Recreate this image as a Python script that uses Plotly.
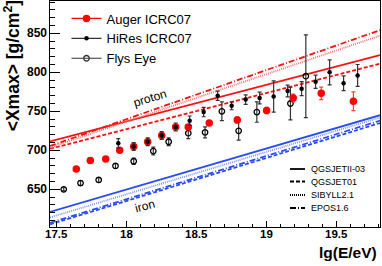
import plotly.graph_objects as go

# ---------------- data ----------------
auger_lgE = [17.64, 17.74, 17.85, 17.95, 18.05, 18.15, 18.25, 18.35, 18.44, 18.59, 18.79, 19.00, 19.19, 19.39, 19.62]
auger_xmax = [676, 687, 689, 700, 705, 711, 719, 730, 730, 735, 739, 751, 767, 773, 763]
auger_err = [3, 3, 3, 3, 3, 3, 3, 3, 3, 3, 4, 4, 5, 8, 12]

hires_lgE = [17.94, 18.05, 18.15, 18.25, 18.35, 18.45, 18.55, 18.65, 18.75, 18.85, 18.95, 19.05, 19.15, 19.25, 19.35, 19.45, 19.55, 19.65]
hires_xmax = [709, 705, 711, 719, 730, 738, 749, 770, 757, 765, 767, 769, 776, 779, 788, 800, 786, 796]
hires_err = [6, 5, 5, 5, 5, 6, 6, 6, 5, 6, 7.5, 20, 7.5, 9, 8.5, 16, 9.5, 14]

fly_lgE = [17.55, 17.67, 17.80, 17.92, 18.05, 18.19, 18.30, 18.44, 18.56, 18.68, 18.80, 18.93, 19.17, 19.28]
fly_xmax = [650, 658, 662, 680, 686, 699, 711, 722, 723, 750, 725, 749, 760, 795]
fly_err = [2, 3, 3, 3, 4, 5, 5, 7, 7, 12, 12, 13, 21, 53]

model_lgE = [17.452, 19.81]
models = ["QGSJETII-03", "QGSJET01", "SIBYLL2.1", "EPOS1.6"]
proton_xmax = {
    "QGSJETII-03": [711.5, 822],
    "QGSJET01": [702, 811],
    "SIBYLL2.1": [703.5, 847],
    "EPOS1.6": [705.5, 854],
}
iron_xmax = {
    "QGSJETII-03": [621, 745],
    "QGSJET01": [605, 735],
    "SIBYLL2.1": [614, 742],
    "EPOS1.6": [607, 738],
}

x_ticks = [17.5, 18, 18.5, 19, 19.5]
x_ticklabels = ["17.5", "18", "18.5", "19", "19.5"]
y_ticks = [650, 700, 750, 800, 850]
y_ticklabels = ["650", "700", "750", "800", "850"]

# ---------------- styles ----------------
dash_of = {
    "QGSJETII-03": "solid",
    "QGSJET01": "4px,2px",
    "SIBYLL2.1": "1px,1px",
    "EPOS1.6": "6px,2px,1px,2px",
}
proton_col = {"QGSJETII-03": "#ff1010", "QGSJET01": "#ff1010", "SIBYLL2.1": "#ff7070", "EPOS1.6": "#ff1010"}
iron_col = {"QGSJETII-03": "#2a4cff", "QGSJET01": "#2a4cff", "SIBYLL2.1": "#7f95ff", "EPOS1.6": "#2a4cff"}

FONT = "Liberation Sans"
fig = go.Figure()

for m in models:
    fig.add_trace(go.Scatter(x=model_lgE, y=proton_xmax[m], mode="lines",
                             line=dict(color=proton_col[m], width=1.8, dash=dash_of[m]),
                             showlegend=False, hoverinfo="skip"))
    fig.add_trace(go.Scatter(x=model_lgE, y=iron_xmax[m], mode="lines",
                             line=dict(color=iron_col[m], width=1.8, dash=dash_of[m]),
                             showlegend=False, hoverinfo="skip"))

# data
fig.add_trace(go.Scatter(x=fly_lgE, y=fly_xmax, mode="markers",
                         marker=dict(symbol="circle-open", size=5.5, color="black", line=dict(width=1.3)),
                         error_y=dict(type="data", array=fly_err, color="#333333", thickness=1.2, width=2),
                         showlegend=False))
fig.add_trace(go.Scatter(x=auger_lgE, y=auger_xmax, mode="markers",
                         marker=dict(symbol="circle", size=7.5, color="#ff0000"),
                         error_y=dict(type="data", array=auger_err, color="#ff4040", thickness=1.2, width=2),
                         showlegend=False))
fig.add_trace(go.Scatter(x=hires_lgE, y=hires_xmax, mode="markers",
                         marker=dict(symbol="circle", size=4.5, color="black"),
                         error_y=dict(type="data", array=hires_err, color="#333333", thickness=1.2, width=2),
                         showlegend=False))

# legend entries (top-left)
fig.add_trace(go.Scatter(x=[None], y=[None], mode="lines+markers", name="Auger ICRC07",
                         line=dict(color="#ff0000", width=1.2), marker=dict(color="#ff0000", size=7.5)))
fig.add_trace(go.Scatter(x=[None], y=[None], mode="lines+markers", name="HiRes ICRC07",
                         line=dict(color="#333333", width=1.2), marker=dict(color="black", size=4.5)))
fig.add_trace(go.Scatter(x=[None], y=[None], mode="lines+markers", name="Flys Eye",
                         line=dict(color="#333333", width=1.2),
                         marker=dict(color="#333333", size=5.5, symbol="circle-open", line=dict(width=1.3))))

# model legend (bottom-right), compact key drawn in paper coordinates
key_px_rows = [169, 181.5, 195, 208]
for m, py in zip(models, key_px_rows):
    yp = (227 - py) / 226
    fig.add_shape(type="line", xref="paper", yref="paper",
                  x0=(290 - 50) / 330, x1=(305 - 50) / 330, y0=yp, y1=yp,
                  line=dict(color="black", width=1.8, dash=dash_of[m]))
    fig.add_annotation(xref="paper", yref="paper", x=(309 - 50) / 330, y=yp,
                       xanchor="left", yanchor="middle", text=m, showarrow=False,
                       font=dict(family=FONT, size=9, color="black"))

fig.add_annotation(x=18.17, y=767, text="proton", showarrow=False, textangle=-17,
                   font=dict(family=FONT, size=12, color="black"))
fig.add_annotation(x=18.13, y=628, text="iron", showarrow=False, textangle=-15,
                   font=dict(family=FONT, size=12, color="black"))

# tick labels (placed tight to the axes, ROOT style)
for v, t in zip(x_ticks, x_ticklabels):
    fig.add_annotation(x=v, xref="x", y=(227 - 234) / 226, yref="paper", text="<b>" + t + "</b>",
                       showarrow=False, xanchor="center", yanchor="middle",
                       font=dict(family=FONT, size=11.5, color="black"))
for v, t in zip(y_ticks, y_ticklabels):
    fig.add_annotation(x=-0.004, xref="paper", y=v, yref="y", text="<b>" + t + "</b>",
                       showarrow=False, xanchor="right", yanchor="middle",
                       font=dict(family=FONT, size=12, color="black"))

# axis titles
fig.add_annotation(xref="paper", yref="paper", x=-0.115, y=1.01, xanchor="center", yanchor="top",
                   text="<b>&lt;Xmax&gt; [g/cm<sup>2</sup>]</b>", textangle=-90, showarrow=False,
                   font=dict(family=FONT, size=17.5, color="black"))
fig.add_annotation(xref="paper", yref="paper", x=0.998, y=(227 - 252) / 226, xanchor="right", yanchor="middle",
                   text="<b>lg(E/eV)</b>", showarrow=False,
                   font=dict(family=FONT, size=15.5, color="black"))

axis_common = dict(showline=True, linecolor="black", linewidth=1, mirror=True, showgrid=False,
                   zeroline=False, ticks="inside", tickcolor="black", showticklabels=False)

fig.update_layout(
    width=382, height=266,
    margin=dict(l=50, r=2, t=1, b=39),
    paper_bgcolor="white", plot_bgcolor="white",
    xaxis=dict(range=[17.452, 19.81], tickvals=x_ticks, ticklen=6,
               minor=dict(ticks="inside", ticklen=3, dtick=0.1, tickcolor="black", tick0=17.5),
               **axis_common),
    yaxis=dict(range=[601.7, 891.4], tickvals=y_ticks, ticklen=10,
               minor=dict(ticks="inside", ticklen=5, dtick=10, tickcolor="black", tick0=600),
               **axis_common),
    legend=dict(x=0.05, y=0.989, xanchor="left", yanchor="top", bgcolor="rgba(0,0,0,0)",
                font=dict(family=FONT, size=13, color="black"), borderwidth=0, tracegroupgap=0),
    showlegend=True,
)

# remove the browser's default 8px body margin so the figure sits at the window origin
fig.write_html("out.html", config={"displayModeBar": False},
               post_script="document.body.style.margin='0';document.body.style.overflow='hidden';")
